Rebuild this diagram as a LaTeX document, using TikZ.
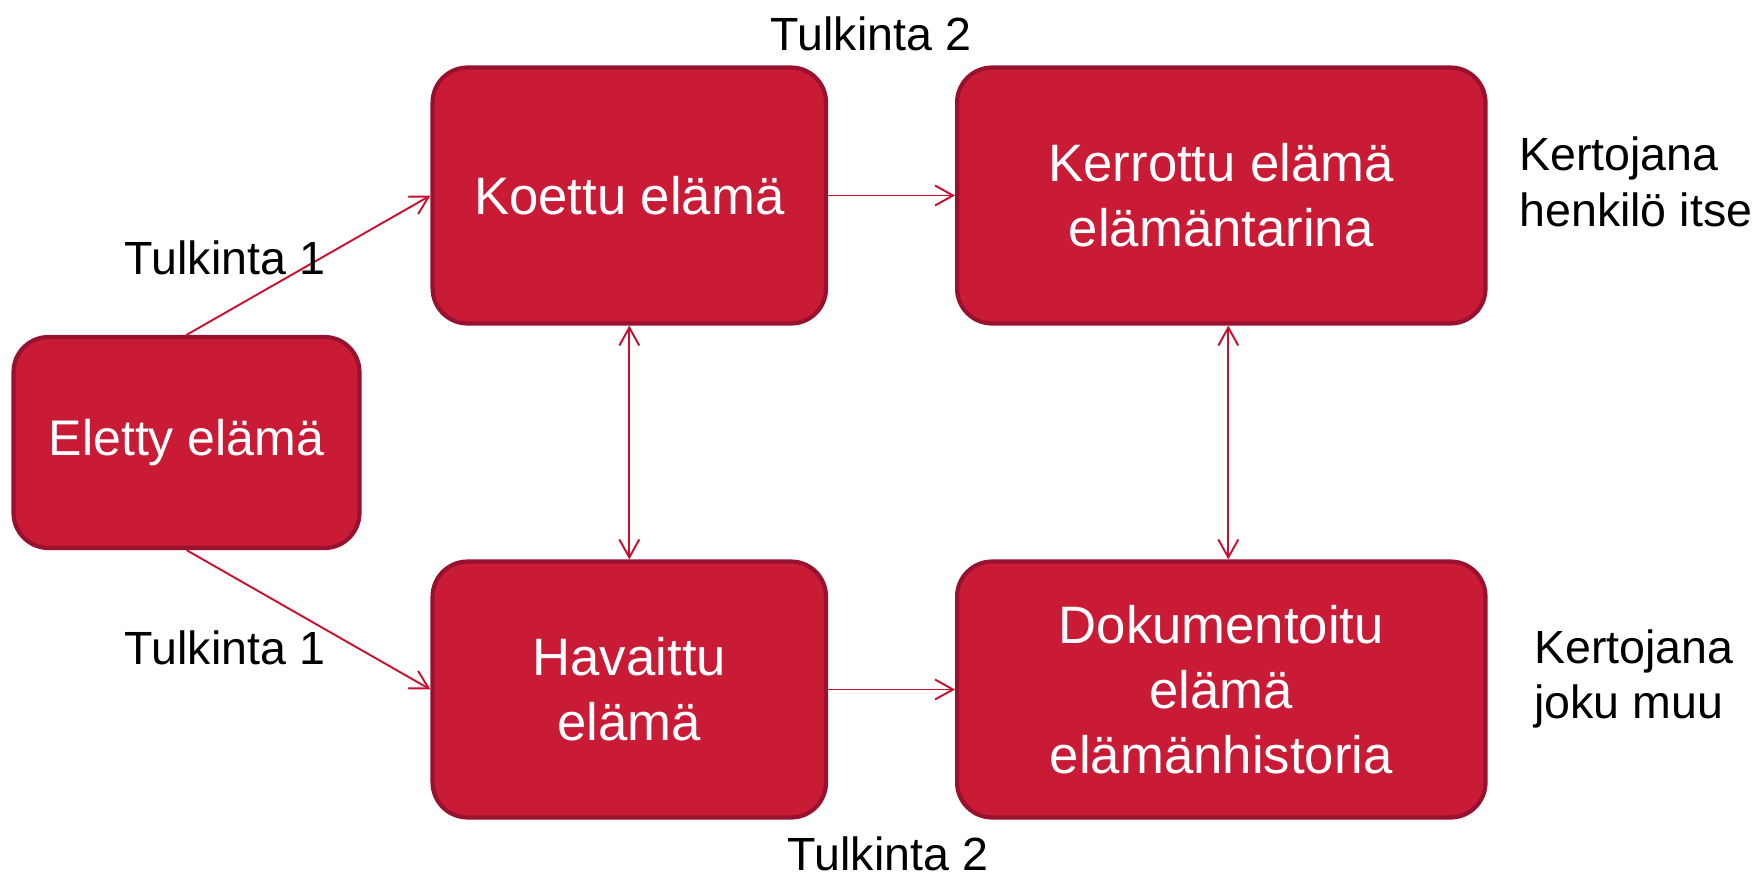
\documentclass[tikz,border=0pt]{standalone}
\usepackage{fontspec}
\setmainfont{Liberation Sans}
\usepackage{tikz}
\definecolor{boxred}{HTML}{C91A36}
\definecolor{boxedge}{HTML}{98122F}
\definecolor{arrowred}{HTML}{C8102E}
\usetikzlibrary{arrows.meta,positioning}
\tikzset{>={Straight Barb[length=3.6mm,width=4mm]}}

\begin{document}
\begin{tikzpicture}[x=0.02cm,y=-0.02cm,
        lifebox/.style={draw=boxedge,fill=boxred,line width=2.4pt,rounded corners=0.7cm,
            text=white,align=center,inner sep=0pt,font=\fontsize{30}{37}\selectfont},
        note/.style={align=left,inner sep=0pt,font=\fontsize{26.5}{31.5}\selectfont},
        link/.style={arrowred,line width=1.1pt}]
                \useasboundingbox (0,0) rectangle (1762,879);

                % the five boxes
                \node[lifebox,minimum width=6.92cm,minimum height=4.22cm,font=\fontsize{28.5}{35}\selectfont] (eletty) at (186.5,442.5) {Eletty elämä};
                \node[lifebox,minimum width=7.87cm,minimum height=5.12cm] (koettu) at (629.3,195.5) {Koettu elämä};
                \node[lifebox,minimum width=7.87cm,minimum height=5.12cm] (havaittu) at (629.3,689.5) {Havaittu\\elämä};
                \node[lifebox,minimum width=10.57cm,minimum height=5.12cm] (kerrottu) at (1221.3,195.5) {Kerrottu elämä\\elämäntarina};
                \node[lifebox,minimum width=10.57cm,minimum height=5.12cm] (dokum) at (1221.3,689.5) {Dokumentoitu\\elämä\\elämänhistoria};

                \draw[link,->] (eletty.north) -- (koettu.west);
                \draw[link,->] (eletty.south) -- (havaittu.west);
                \draw[link,->] (koettu.east) -- (kerrottu.west);
                \draw[link,->] (havaittu.east) -- (dokum.west);
                \draw[link,<->] (koettu.south) -- (havaittu.north);
                \draw[link,<->] ([xshift=0.14cm]kerrottu.south) -- ([xshift=0.14cm]dokum.north);

                % labels
                \node[note] (tulk2a) at (871,34) {Tulkinta 2};
                \node[note] (tulk1a) at (225,258) {Tulkinta 1};
                \node[note] (tulk1b) at (225,648) {Tulkinta 1};
                \node[note] (tulk2b) at (888,854) {Tulkinta 2};
                \node[note,anchor=west] (itse) at (1519,182) {Kertojana\\henkilö itse};
                \node[note,anchor=west] (muu) at (1534,679) {Kertojana\\joku muu};
\end{tikzpicture}
\end{document}
